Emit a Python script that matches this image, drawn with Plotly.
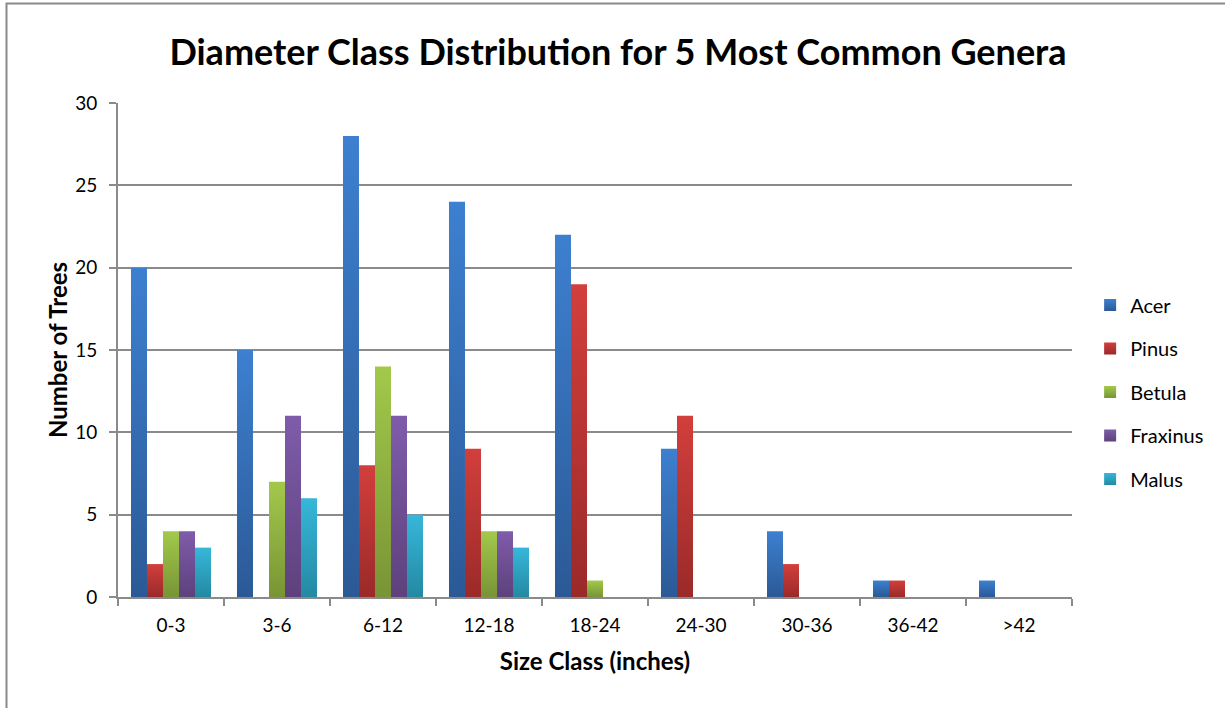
import plotly.graph_objects as go

# Diameter size classes (inches)
size_classes = ["0-3", "3-6", "6-12", "12-18", "18-24", "24-30", "30-36", "36-42", ">42"]

# Tree counts per genus in each size class
acer = [20, 15, 28, 24, 22, 9, 4, 1, 1]
pinus = [2, 0, 8, 9, 19, 11, 2, 1, 0]
betula = [4, 7, 14, 4, 1, 0, 0, 0, 0]
fraxinus = [4, 11, 11, 4, 0, 0, 0, 0, 0]
malus = [3, 6, 5, 3, 0, 0, 0, 0, 0]

genera = ["Acer", "Pinus", "Betula", "Fraxinus", "Malus"]
series = [acer, pinus, betula, fraxinus, malus]

# (top, bottom) colours of each genus' vertical gradient
gradients = [
    ("#3d80d0", "#2b5996"),
    ("#d23f3c", "#9a2a29"),
    ("#a2c94b", "#789435"),
    ("#7f5cab", "#5d417c"),
    ("#36b7da", "#2489a2"),
]

FONT = "Lato, Carlito, Calibri, sans-serif"
GRID = "#8a8a8a"

fig = go.Figure()
for i, (name, vals) in enumerate(zip(genera, series)):
    top, bottom = gradients[i]
    fig.add_trace(go.Bar(
        name=name,
        x=size_classes,
        y=vals,
        legendgroup=name,
        marker=dict(color=bottom, line=dict(width=0)),
    ))

fig.update_layout(
    width=1225,
    height=708,
    barmode="group",
    bargap=0.245,
    bargroupgap=0,
    paper_bgcolor="white",
    plot_bgcolor="white",
    margin=dict(l=118, r=153, t=103, b=111),
    font=dict(family=FONT, color="#000000", size=19),
    title=dict(
        text="<b>Diameter Class Distribution for 5 Most Common Genera</b>",
        x=618 / 1225, xanchor="center",
        y=1 - 52 / 708, yanchor="middle",
        xref="container", yref="container",
        font=dict(size=36, family=FONT, color="#000000"),
    ),
    xaxis=dict(
        title=dict(text="<b>Size Class (inches)</b>", font=dict(size=24), standoff=18),
        showgrid=False,
        showline=True, linecolor=GRID, linewidth=2,
        ticks="outside", tickson="boundaries", ticklen=7, tickcolor=GRID, tickwidth=2,
        tickfont=dict(size=19),
        ticklabelstandoff=10,
    ),
    yaxis=dict(
        title=dict(text="<b>Number of Trees</b>", font=dict(size=24), standoff=1),
        range=[0, 30], dtick=5,
        showgrid=True, gridcolor=GRID, gridwidth=2,
        showline=True, linecolor=GRID, linewidth=2,
        ticks="outside", ticklen=7, tickcolor=GRID, tickwidth=2,
        tickfont=dict(size=19),
        ticklabelstandoff=8,
        zeroline=False,
    ),
    legend=dict(
        x=1.019, xanchor="left",
        y=(597 - 392) / 494, yanchor="middle",
        font=dict(size=20),
        tracegroupgap=14.5,
        bgcolor="rgba(0,0,0,0)",
    ),
    shapes=[dict(
        type="rect", xref="paper", yref="paper",
        x0=(6.5 - 118) / 954, x1=(1240 - 118) / 954,
        y0=(597 - 720) / 494, y1=(597 - 3.5) / 494,
        line=dict(color="#8a8a8a", width=2), fillcolor="rgba(0,0,0,0)",
        layer="below",
    )],
)

# Vertical light-to-dark gradient on each bar and legend swatch
stops = ",".join('["%s","%s"]' % g for g in gradients)
post = """
(function(){
  var gd = document.getElementById('{plot_id}');
  var stops = [%s];
  function paint(){
    var ns = 'http://www.w3.org/2000/svg';
    var svg = gd.querySelector('.main-svg');
    var defs = svg.querySelector('defs');
    if (!defs) { defs = document.createElementNS(ns, 'defs'); svg.insertBefore(defs, svg.firstChild); }
    stops.forEach(function(s, i){
      var id = 'bargrad' + i;
      if (!document.getElementById(id)) {
        var g = document.createElementNS(ns, 'linearGradient');
        g.setAttribute('id', id);
        g.setAttribute('x1', '0'); g.setAttribute('y1', '0');
        g.setAttribute('x2', '0'); g.setAttribute('y2', '1');
        [[0, s[0]], [1, s[1]]].forEach(function(p){
          var st = document.createElementNS(ns, 'stop');
          st.setAttribute('offset', p[0]);
          st.setAttribute('stop-color', p[1]);
          g.appendChild(st);
        });
        defs.appendChild(g);
      }
    });
    gd.querySelectorAll('.barlayer .trace').forEach(function(t, i){
      t.querySelectorAll('path').forEach(function(p){ p.style.fill = 'url(#bargrad' + i + ')'; });
    });
    gd.querySelectorAll('.legend .traces').forEach(function(t, i){
      t.querySelectorAll('.legendpoints path').forEach(function(p){ p.style.fill = 'url(#bargrad' + i + ')'; });
    });
  }
  paint();
  gd.on('plotly_afterplot', paint);
})();
""" % stops

fig.write_html("out.html", post_script=post)
